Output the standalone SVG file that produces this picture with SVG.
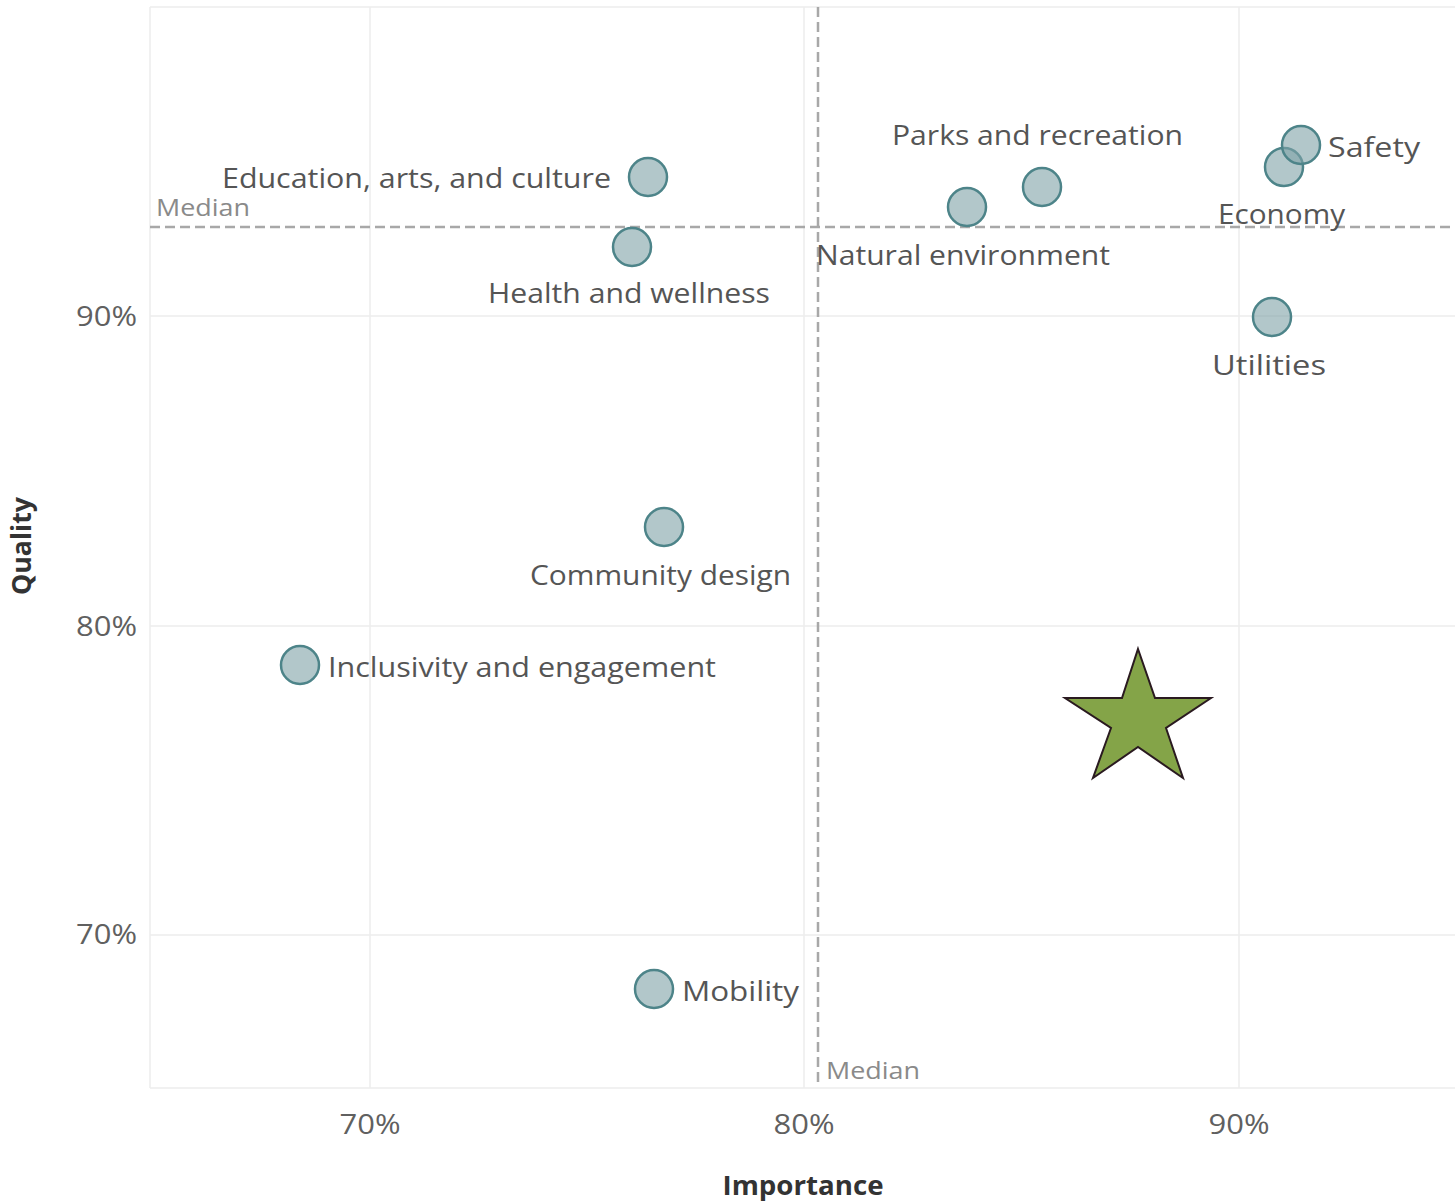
<svg xmlns="http://www.w3.org/2000/svg" width="1455" height="1202" viewBox="0 0 1455 1202">
<style>
.grid{stroke:#ececec;stroke-width:1.5;fill:none}
.median{stroke:#a8a8a8;stroke-width:2.5;stroke-dasharray:10,5;fill:none}
.dot{fill:#7ea2a7;fill-opacity:0.6;stroke:#4d8489;stroke-width:2.5}
.lbl{font-family:"Open Sans","Noto Sans",sans-serif;font-size:28px;fill:#555555}
.med{font-family:"Open Sans","Noto Sans",sans-serif;font-size:23px;fill:#8a8a8a}
.tick{font-family:"Open Sans","Noto Sans",sans-serif;font-size:27px;fill:#606060}
.title{font-family:"Open Sans","Noto Sans",sans-serif;font-size:26px;font-weight:bold;fill:#333333}
</style>
<rect x="0" y="0" width="1455" height="1202" fill="#ffffff"/>
<g id="gridlines">
<line class="grid" x1="150" y1="7" x2="1455" y2="7"/>
<line class="grid" x1="150" y1="7" x2="150" y2="1088"/>
<line class="grid" x1="150" y1="1088" x2="1455" y2="1088"/>
<line class="grid" x1="370" y1="7" x2="370" y2="1088"/>
<line class="grid" x1="804" y1="7" x2="804" y2="1088"/>
<line class="grid" x1="1239" y1="7" x2="1239" y2="1088"/>
<line class="grid" x1="150" y1="316" x2="1455" y2="316"/>
<line class="grid" x1="150" y1="626" x2="1455" y2="626"/>
<line class="grid" x1="150" y1="935" x2="1455" y2="935"/>
</g>
<g id="connectors">
<line class="median" x1="818" y1="7" x2="818" y2="1086"/>
<line class="median" x1="150" y1="227" x2="1455" y2="227"/>
</g>
<g id="axes">
<text class="tick" x="137" y="326" text-anchor="end" textLength="61" lengthAdjust="spacingAndGlyphs">90%</text>
<text class="tick" x="137" y="636" text-anchor="end" textLength="61" lengthAdjust="spacingAndGlyphs">80%</text>
<text class="tick" x="137" y="944" text-anchor="end" textLength="61" lengthAdjust="spacingAndGlyphs">70%</text>
<text class="tick" x="370" y="1134" text-anchor="middle" textLength="61" lengthAdjust="spacingAndGlyphs">70%</text>
<text class="tick" x="804" y="1134" text-anchor="middle" textLength="61" lengthAdjust="spacingAndGlyphs">80%</text>
<text class="tick" x="1239" y="1134" text-anchor="middle" textLength="61" lengthAdjust="spacingAndGlyphs">90%</text>
<text class="title" x="803" y="1195" text-anchor="middle" textLength="161" lengthAdjust="spacingAndGlyphs">Importance</text>
<text class="title" x="0" y="0" text-anchor="middle" transform="translate(31,546) rotate(-90)" textLength="98" lengthAdjust="spacingAndGlyphs">Quality</text>
<text class="med" x="156" y="216" textLength="94" lengthAdjust="spacingAndGlyphs">Median</text>
<text class="med" x="826" y="1079" textLength="94" lengthAdjust="spacingAndGlyphs">Median</text>
</g>
<g id="education">
<circle class="dot" cx="648" cy="177" r="19"/>
<text class="lbl" x="222" y="188" textLength="389" lengthAdjust="spacingAndGlyphs">Education, arts, and culture</text>
</g>
<g id="health">
<circle class="dot" cx="632" cy="247" r="19"/>
<text class="lbl" x="488" y="303" textLength="282" lengthAdjust="spacingAndGlyphs">Health and wellness</text>
</g>
<g id="natural">
<circle class="dot" cx="967" cy="207" r="19"/>
<text class="lbl" x="816" y="265" textLength="294" lengthAdjust="spacingAndGlyphs">Natural environment</text>
</g>
<g id="parks">
<circle class="dot" cx="1042" cy="187" r="19"/>
<text class="lbl" x="892" y="145" textLength="291" lengthAdjust="spacingAndGlyphs">Parks and recreation</text>
</g>
<g id="economy">
<circle class="dot" cx="1284" cy="167" r="19"/>
<text class="lbl" x="1218" y="224" textLength="127" lengthAdjust="spacingAndGlyphs">Economy</text>
</g>
<g id="safety">
<circle class="dot" cx="1301" cy="145" r="19"/>
<text class="lbl" x="1328" y="157" textLength="92" lengthAdjust="spacingAndGlyphs">Safety</text>
</g>
<g id="utilities">
<circle class="dot" cx="1272" cy="317" r="19"/>
<text class="lbl" x="1212" y="375" textLength="114" lengthAdjust="spacingAndGlyphs">Utilities</text>
</g>
<g id="community">
<circle class="dot" cx="664" cy="527" r="19"/>
<text class="lbl" x="530" y="585" textLength="261" lengthAdjust="spacingAndGlyphs">Community design</text>
</g>
<g id="inclusivity">
<circle class="dot" cx="300" cy="665" r="19"/>
<text class="lbl" x="328" y="677" textLength="388" lengthAdjust="spacingAndGlyphs">Inclusivity and engagement</text>
</g>
<g id="mobility">
<circle class="dot" cx="654" cy="989" r="19"/>
<text class="lbl" x="682" y="1001" textLength="117" lengthAdjust="spacingAndGlyphs">Mobility</text>
</g>
<g id="star">
<polygon points="1138,649 1155,698 1211,698 1166,728 1183,778 1138,747 1093,778 1111,728 1065,698 1122,698" fill="#84a448" stroke="#2a1a20" stroke-width="2" stroke-linejoin="miter"/>
</g>
</svg>
